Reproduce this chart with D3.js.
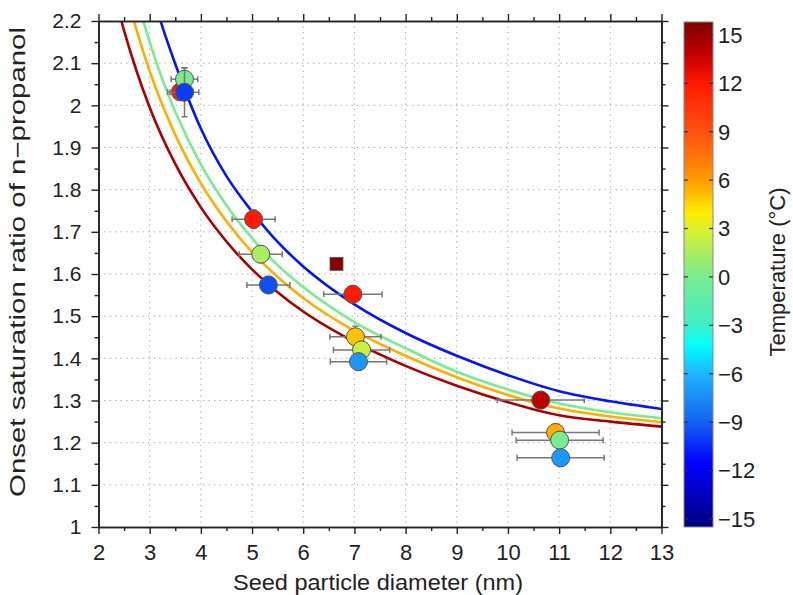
<!DOCTYPE html>
<html><head><meta charset="utf-8">
<script src="https://cdn.jsdelivr.net/npm/d3@7"></script>
<style>
html,body{margin:0;padding:0;background:#fff;}
text{font-family:"Liberation Sans",Arial,sans-serif;fill:#222;}
</style></head>
<body>
<svg id="chart" width="793" height="595"></svg>
<script>
// ---------- data ----------
const xTicks = [2,3,4,5,6,7,8,9,10,11,12,13];
const yTicks = [1,1.1,1.2,1.3,1.4,1.5,1.6,1.7,1.8,1.9,2,2.1,2.2];
const cbTicks = [15,12,9,6,3,0,-3,-6,-9,-12,-15];

// colour map (temperature -> colour)
const cmapTemps  = [15.8, 13.5, 12, 9, 6, 4, 2.5, 0, -3, -4.3, -6, -9, -11.5, -15.5];
const cmapColors = ["#7f0000","#cc0000","#ff1a00","#ff5010","#ff9900","#ffee00","#ccf040","#78ec8e","#3ef0c8","#00ffff","#1eb4ff","#1464f0","#0000ff","#000080"];

// fitted curves (diameter nm, onset saturation ratio)
const curveTemps = [14.5, 5.5, 0, -11];
const curveD = [
  [2.3,2.5,2.75,3,3.5,4,4.5,5,5.5,6,7,8,9,10,11,12,13],
  [2.6,2.75,3,3.5,4,4.5,5,5.5,6,7,8,9,10,11,12,13],
  [2.8,3,3.25,3.5,4,4.5,5,5.5,6,7,8,9,10,11,12,13],
  [3.1,3.25,3.5,4,4.5,5,5.5,6,7,8,9,10,11,12,13]
];
const curveS = [
  [2.269,2.177,2.079,1.995,1.861,1.758,1.677,1.611,1.557,1.511,1.439,1.382,1.335,1.296,1.265,1.250,1.238],
  [2.241,2.176,2.081,1.930,1.815,1.725,1.652,1.593,1.543,1.465,1.406,1.355,1.313,1.281,1.262,1.249],
  [2.232,2.150,2.061,1.985,1.860,1.763,1.685,1.621,1.569,1.486,1.424,1.368,1.326,1.293,1.272,1.258],
  [2.246,2.186,2.098,1.945,1.832,1.748,1.676,1.618,1.528,1.460,1.406,1.360,1.322,1.298,1.280]
];

// measurements
const ptD    = [3.60, 3.68, 3.68, 5.03, 5.17, 5.32, 6.97, 7.02, 7.14, 7.08, 10.64, 10.93, 11.01, 11.03];
const ptS    = [2.032,2.062,2.031,1.730,1.647,1.574,1.552,1.451,1.420,1.392,1.301,1.224,1.206,1.164];
const ptT    = [12, 0, -10, 12, 1.5, -9.5, 12, 5, 2.5, -7, 14, 5.5, 0, -7];
const ptXErr = [0.25,0.26,0.28,0.42,0.42,0.42,0.57,0.50,0.55,0.55,0.85,0.85,0.85,0.85];
const ptYErr = [0.02,0.027,0.058,0.022,0.02,0.02,0.02,0.025,0.02,0.02,0.02,0.02,0.02,0.02];
const sqD = [6.65], sqS = [1.624], sqT = [15.5];

// ---------- layout ----------
const svg = d3.select("#chart");
const L = 98.5, R = 661.5, T = 21, B = 527;
const x = d3.scaleLinear().domain([2,13]).range([L,R]);
const y = d3.scaleLinear().domain([1,2.2]).range([B,T]);
const cmap = d3.scaleLinear().domain(cmapTemps).range(cmapColors).clamp(true);
const fmt = v => (v<0 ? "\u2212"+Math.abs(v) : String(v));

// grid
const grid = svg.append("g").attr("stroke","#b0b0b0").attr("stroke-width",1).attr("stroke-dasharray","1.5,4");
grid.selectAll("line.v").data(xTicks.slice(1,-1)).join("line")
  .attr("x1",d=>x(d)).attr("x2",d=>x(d)).attr("y1",T).attr("y2",B);
grid.selectAll("line.h").data(yTicks.slice(1,-1)).join("line")
  .attr("y1",d=>y(d)).attr("y2",d=>y(d)).attr("x1",L).attr("x2",R);

// curves
svg.append("clipPath").attr("id","pc").append("rect")
  .attr("x",L).attr("y",T).attr("width",R-L).attr("height",B-T);
const line = d3.line().x(d=>x(d[0])).y(d=>y(d[1])).curve(d3.curveMonotoneX);
const cg = svg.append("g").attr("clip-path","url(#pc)");
curveD.forEach((ds,i)=>{
  cg.append("path").datum(ds.map((d,j)=>[d,curveS[i][j]]))
    .attr("d",line).attr("fill","none").attr("stroke",cmap(curveTemps[i])).attr("stroke-width",2.6);
});

// points
const pg = svg.append("g");
const cap = 3;
ptD.forEach((d,i)=>{
  const g = pg.append("g").attr("stroke","#777").attr("stroke-width",1.5);
  const cx = x(d), cy = y(ptS[i]);
  const x0 = x(d-ptXErr[i]), x1 = x(d+ptXErr[i]);
  const y0 = y(ptS[i]-ptYErr[i]), y1 = y(ptS[i]+ptYErr[i]);
  g.append("line").attr("x1",x0).attr("x2",x1).attr("y1",cy).attr("y2",cy);
  g.append("line").attr("x1",x0).attr("x2",x0).attr("y1",cy-cap).attr("y2",cy+cap);
  g.append("line").attr("x1",x1).attr("x2",x1).attr("y1",cy-cap).attr("y2",cy+cap);
  g.append("line").attr("x1",cx).attr("x2",cx).attr("y1",y0).attr("y2",y1);
  g.append("line").attr("x1",cx-cap).attr("x2",cx+cap).attr("y1",y0).attr("y2",y0);
  g.append("line").attr("x1",cx-cap).attr("x2",cx+cap).attr("y1",y1).attr("y2",y1);
  pg.append("circle").attr("cx",cx).attr("cy",cy).attr("r",9)
    .attr("fill",cmap(ptT[i])).attr("stroke","#555").attr("stroke-width",1);
});
sqD.forEach((d,i)=>{
  pg.append("rect").attr("x",x(d)-6.5).attr("y",y(sqS[i])-6.5).attr("width",13).attr("height",13)
    .attr("fill",cmap(sqT[i])).attr("stroke","#555").attr("stroke-width",0.8);
});

// axes
function axisStyle(size){
  return g=>{
    g.selectAll("path.domain").attr("stroke","#222").attr("stroke-width",1.6);
    g.selectAll(".tick line").attr("stroke","#222").attr("stroke-width",1.4);
    g.selectAll("text").style("font-family","'Liberation Sans',Arial,sans-serif").style("font-size",size+"px").attr("fill","#222");
  };
}
const xMinor = d3.range(2.5,13,1);
const yMinor = d3.range(1.05,2.2,0.1);
svg.append("g").attr("transform",`translate(0,${B})`)
  .call(d3.axisBottom(x).tickValues(xTicks).tickFormat(d3.format("d")).tickSize(7).tickSizeOuter(0).tickPadding(10)).call(axisStyle(22));
svg.append("g").attr("transform",`translate(0,${B})`)
  .call(d3.axisBottom(x).tickValues(xMinor).tickFormat("").tickSize(4).tickSizeOuter(0)).call(axisStyle(22));
svg.append("g").attr("transform",`translate(0,${T})`)
  .call(d3.axisTop(x).tickValues(xTicks).tickFormat("").tickSize(7).tickSizeOuter(0)).call(axisStyle(22));
svg.append("g").attr("transform",`translate(0,${T})`)
  .call(d3.axisTop(x).tickValues(xMinor).tickFormat("").tickSize(4).tickSizeOuter(0)).call(axisStyle(22));
svg.append("g").attr("transform",`translate(${L},0)`)
  .call(d3.axisLeft(y).tickValues(yTicks).tickFormat(d=>d3.format("")(+d.toFixed(1))).tickSize(7).tickSizeOuter(0).tickPadding(10)).call(axisStyle(21));
svg.append("g").attr("transform",`translate(${L},0)`)
  .call(d3.axisLeft(y).tickValues(yMinor).tickFormat("").tickSize(4).tickSizeOuter(0)).call(axisStyle(21));
svg.append("g").attr("transform",`translate(${R},0)`)
  .call(d3.axisRight(y).tickValues(yTicks).tickFormat("").tickSize(7).tickSizeOuter(0)).call(axisStyle(21));
svg.append("g").attr("transform",`translate(${R},0)`)
  .call(d3.axisRight(y).tickValues(yMinor).tickFormat("").tickSize(4).tickSizeOuter(0)).call(axisStyle(21));

// axis titles
svg.append("text").attr("x",378).attr("y",590).attr("text-anchor","middle")
  .attr("textLength",290).attr("lengthAdjust","spacingAndGlyphs")
  .style("font-size","22px").text("Seed particle diameter (nm)");
svg.append("text").attr("transform",`translate(25,262) rotate(-90)`).attr("text-anchor","middle")
  .attr("textLength",470).attr("lengthAdjust","spacingAndGlyphs")
  .style("font-size","22px").text("Onset saturation ratio of n\u2212propanol");

// colour bar
const cbL = 684, cbW = 29, cbTop = 22, cbBot = 527;
const cy = d3.scaleLinear().domain([-15.5,15.8]).range([cbBot,cbTop]);
const defs = svg.append("defs");
const grad = defs.append("linearGradient").attr("id","cbg").attr("x1",0).attr("y1",1).attr("x2",0).attr("y2",0);
d3.range(0,1.0001,0.02).forEach(f=>{
  const t = -15.5 + f*31.3;
  grad.append("stop").attr("offset",f).attr("stop-color",cmap(t));
});
svg.append("rect").attr("x",cbL).attr("y",cbTop).attr("width",cbW).attr("height",cbBot-cbTop)
  .attr("fill","url(#cbg)").attr("stroke","#888").attr("stroke-width",1);
const cbg = svg.append("g");
cbTicks.forEach(t=>{
  cbg.append("line").attr("x1",cbL).attr("x2",cbL+4).attr("y1",cy(t)).attr("y2",cy(t)).attr("stroke","#333").attr("stroke-width",1.2);
  cbg.append("line").attr("x1",cbL+cbW-4).attr("x2",cbL+cbW).attr("y1",cy(t)).attr("y2",cy(t)).attr("stroke","#333").attr("stroke-width",1.2);
  cbg.append("text").attr("x",cbL+cbW+5).attr("y",cy(t)).attr("dy","0.36em")
    .style("font-size","22px").text(fmt(t));
});
svg.append("text").attr("transform",`translate(785,272) rotate(-90)`).attr("text-anchor","middle")
  .style("font-size","22px").text("Temperature (\u00B0C)");
</script>
</body></html>
